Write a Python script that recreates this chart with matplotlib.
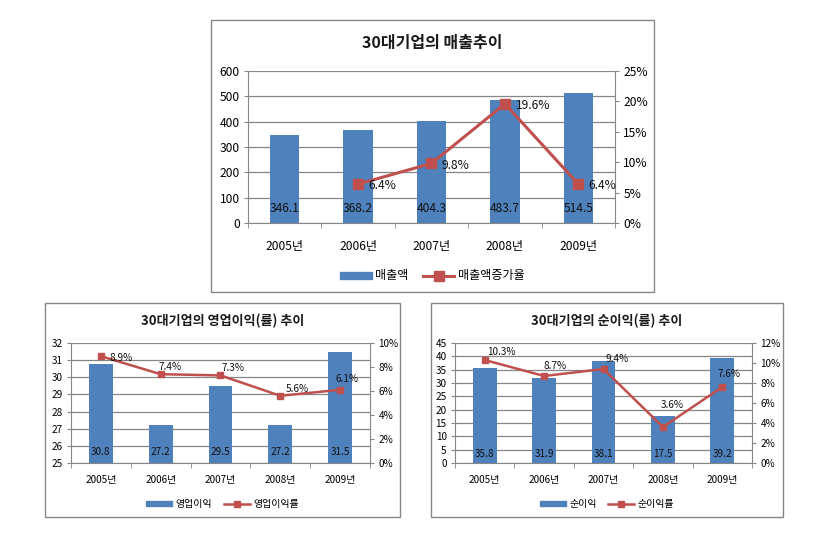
import matplotlib
matplotlib.use("Agg")
import matplotlib.pyplot as plt
from matplotlib.patches import Rectangle, Patch
from matplotlib.lines import Line2D
from matplotlib.ticker import FuncFormatter, MultipleLocator, FixedLocator

plt.rcParams['font.family'] = ['Noto Sans CJK KR', 'DejaVu Sans']

# ---------------- data ----------------
years = ['2005년', '2006년', '2007년', '2008년', '2009년']

sales = [346.1, 368.2, 404.3, 483.7, 514.5]
sales_growth = [None, 6.4, 9.8, 19.6, 6.4]

op_profit = [30.8, 27.2, 29.5, 27.2, 31.5]
op_margin = [8.9, 7.4, 7.3, 5.6, 6.1]

net_profit = [35.8, 31.9, 38.1, 17.5, 39.2]
net_margin = [10.3, 8.7, 9.4, 3.6, 7.6]

titles = ['30대기업의 매출추이', '30대기업의 영업이익(률) 추이', '30대기업의 순이익(률) 추이']
bar_names = ['매출액', '영업이익', '순이익']
line_names = ['매출액증가율', '영업이익률', '순이익률']

# ---------------- style ----------------
W, H = 820, 544
BLUE = '#4F81BD'
RED = '#C0504D'
GRAY = '#868686'

fig = plt.figure(figsize=(W / 100, H / 100), dpi=100)


def frac(l, t, r, b):
    return [l / W, 1 - b / H, (r - l) / W, (b - t) / H]


def make_chart(frame, plot, title, bars, line, bname, lname,
               ylim, ystep, y2lim, y2step, fs, tfs, title_y, leg_y,
               xlab_pad, bar_lab_off, line_offs, ms, lw, ytickfmt):
    fl, ft, fr, fb = frame
    fig.patches.append(Rectangle((fl / W, 1 - fb / H), (fr - fl) / W, (fb - ft) / H,
                                 transform=fig.transFigure, fill=False,
                                 edgecolor=GRAY, linewidth=1.0))
    fig.text((fl + fr) / 2 / W, 1 - title_y / H, title, ha='center', va='center',
             fontsize=tfs, fontweight='bold', color='#1a1a1a')

    ax = fig.add_axes(frac(*plot))
    x = list(range(len(years)))
    ax.bar(x, bars, width=0.4, color=BLUE, zorder=2)
    ax.set_xlim(-0.5, len(years) - 0.5)
    ax.set_ylim(*ylim)
    ax.yaxis.set_major_locator(MultipleLocator(ystep))
    ax.yaxis.set_major_formatter(FuncFormatter(ytickfmt))
    ax.set_axisbelow(True)
    ax.grid(axis='y', color=GRAY, linewidth=0.9)
    for s in ['top', 'right']:
        ax.spines[s].set_visible(False)
    for s in ['left', 'bottom']:
        ax.spines[s].set_color(GRAY)
    ax.set_xticks(x)
    ax.set_xticklabels(years)
    ax.xaxis.set_minor_locator(FixedLocator([i - 0.5 for i in range(len(years) + 1)]))
    ax.tick_params(axis='x', which='major', length=0, pad=xlab_pad, labelsize=fs)
    ax.tick_params(axis='x', which='minor', length=3.5, color=GRAY, direction='out')
    ax.tick_params(axis='y', length=3, color=GRAY, pad=3, labelsize=fs)

    for i, v in enumerate(bars):
        ax.annotate(f'{v:.1f}', xy=(i, ylim[0]), xytext=(0, bar_lab_off),
                    textcoords='offset pixels', ha='center', va='center',
                    fontsize=fs, color='#111111', zorder=3)

    ax2 = ax.twinx()
    ax2.set_ylim(*y2lim)
    ax2.yaxis.set_major_locator(MultipleLocator(y2step))
    ax2.yaxis.set_major_formatter(FuncFormatter(lambda v, p: f'{v:.0f}%'))
    for s in ['top', 'left', 'bottom']:
        ax2.spines[s].set_visible(False)
    ax2.spines['right'].set_color(GRAY)
    ax2.tick_params(axis='y', length=3, color=GRAY, pad=3, labelsize=fs)
    lx = [i for i, v in enumerate(line) if v is not None]
    ly = [v for v in line if v is not None]
    ax2.plot(lx, ly, color=RED, linewidth=lw, marker='s', markersize=ms,
             markerfacecolor=RED, markeredgecolor=RED, zorder=4)
    for (i, v), (dx, dy) in zip(zip(lx, ly), line_offs):
        ax2.annotate(f'{v:.1f}%', xy=(i, v), xytext=(dx, dy),
                     textcoords='offset pixels', ha='center', va='center',
                     fontsize=fs, color='#111111', zorder=5)

    handles = [Patch(facecolor=BLUE, edgecolor=BLUE),
               Line2D([0], [0], color=RED, linewidth=lw, marker='s',
                      markersize=ms, markerfacecolor=RED, markeredgecolor=RED)]
    ax.legend(handles, [bname, lname], loc='center', ncol=2, frameon=False,
              bbox_to_anchor=((fl + fr) / 2 / W, 1 - leg_y / H),
              bbox_transform=fig.transFigure, fontsize=fs,
              handlelength=2.6, handleheight=0.5, columnspacing=1.2,
              handletextpad=0.3)
    return ax, ax2


fmt_int = lambda v, p: f'{v:.0f}'

# top chart
make_chart(frame=(211, 20, 654, 292), plot=(248, 71, 615, 223),
           title=titles[0], bars=sales, line=sales_growth,
           bname=bar_names[0], lname=line_names[0],
           ylim=(0, 600), ystep=100, y2lim=(0, 25), y2step=5,
           fs=8.7, tfs=11.5, title_y=43, leg_y=276, xlab_pad=12,
           bar_lab_off=15, line_offs=[(24, -1), (24, -2), (28, -2), (24, -1)],
           ms=6.5, lw=2.2, ytickfmt=fmt_int)

# bottom-left chart
make_chart(frame=(45, 303, 400, 517), plot=(71, 343, 370, 463),
           title=titles[1], bars=op_profit, line=op_margin,
           bname=bar_names[1], lname=line_names[1],
           ylim=(25, 32), ystep=1, y2lim=(0, 10), y2step=2,
           fs=7.2, tfs=9.4, title_y=321, leg_y=504, xlab_pad=9,
           bar_lab_off=11, line_offs=[(20, -2), (9, 7), (13, 7), (17, 7), (7, 11)],
           ms=5, lw=1.8, ytickfmt=fmt_int)

# bottom-right chart
make_chart(frame=(431, 303, 783, 517), plot=(455, 343, 752, 463),
           title=titles[2], bars=net_profit, line=net_margin,
           bname=bar_names[2], lname=line_names[2],
           ylim=(0, 45), ystep=5, y2lim=(0, 12), y2step=2,
           fs=7.2, tfs=9.4, title_y=321, leg_y=504, xlab_pad=9,
           bar_lab_off=9, line_offs=[(17, 8), (11, 10), (14, 10), (9, 22), (7, 13)],
           ms=5, lw=1.8, ytickfmt=fmt_int)

fig.savefig('out.png', dpi=100, facecolor='white')
